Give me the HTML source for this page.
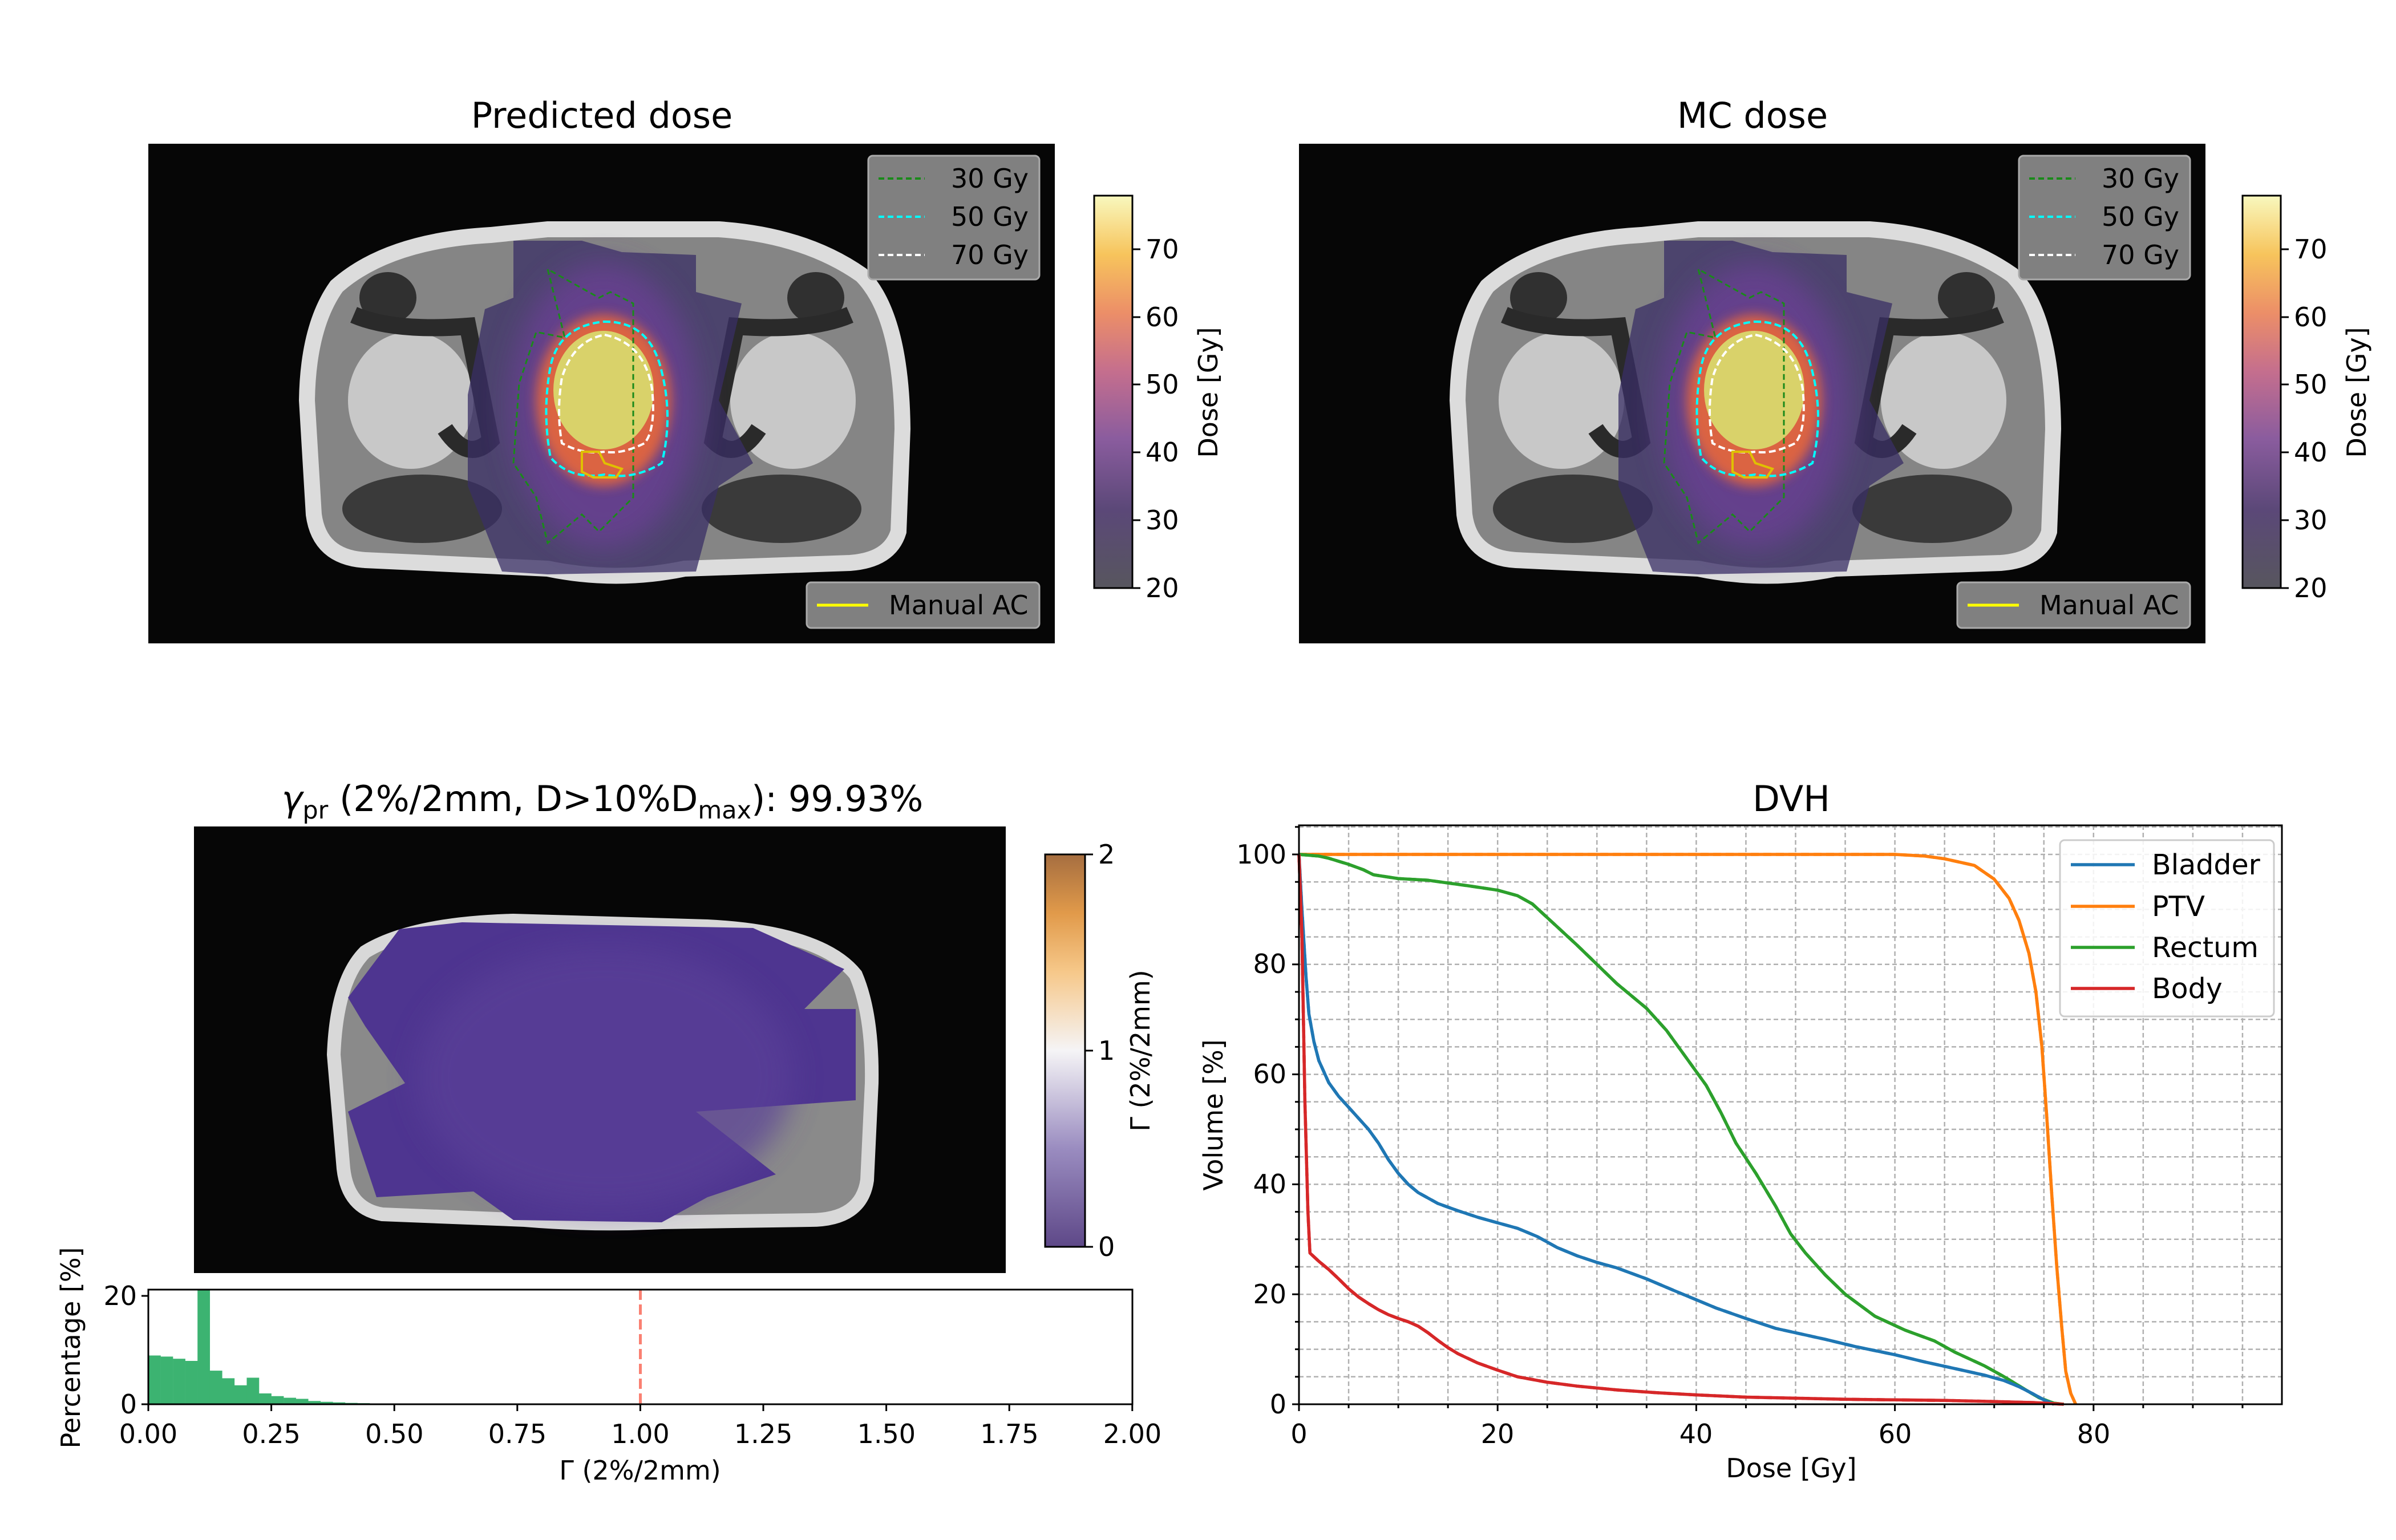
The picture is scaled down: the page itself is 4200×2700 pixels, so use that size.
<!DOCTYPE html>
<html><head><meta charset="utf-8"><style>
html,body{margin:0;padding:0;background:#fff}
svg{display:block}
text{font-family:"DejaVu Sans","Liberation Sans",sans-serif;fill:#000}
</style></head><body>
<svg id="s" width="4200" height="2700" viewBox="0 0 4200 2700" xmlns="http://www.w3.org/2000/svg">
<defs>
<linearGradient id="inf" x1="0" y1="1" x2="0" y2="0">
<stop offset="0" stop-color="#57565e"/><stop offset="0.2" stop-color="#5b4878"/><stop offset="0.38" stop-color="#8a5c9e"/><stop offset="0.55" stop-color="#c46e8e"/><stop offset="0.7" stop-color="#ec8e68"/><stop offset="0.85" stop-color="#f7c45c"/><stop offset="1" stop-color="#f8f8be"/>
</linearGradient>
<linearGradient id="puor" x1="0" y1="1" x2="0" y2="0">
<stop offset="0" stop-color="#5e4888"/><stop offset="0.25" stop-color="#9a8cc0"/><stop offset="0.5" stop-color="#f5f4f6"/><stop offset="0.7" stop-color="#f6c88a"/><stop offset="0.85" stop-color="#e19a4a"/><stop offset="1" stop-color="#a66e40"/>
</linearGradient>
<filter id="bl" x="-30%" y="-30%" width="160%" height="160%"><feGaussianBlur stdDeviation="25"/></filter>
<filter id="bl2" x="-30%" y="-30%" width="160%" height="160%"><feGaussianBlur stdDeviation="10"/></filter>
<g id="mri">
<path d="M330,250 Q420,170 600,160 L700,150 L1000,150 Q1150,160 1250,230 Q1320,300 1322,500 L1315,680 Q1300,730 1230,735 L940,745 Q820,770 700,745 L380,730 Q300,725 290,650 L278,450 Q280,320 330,250 Z" fill="#858585" stroke="#dcdcdc" stroke-width="28"/>
<ellipse cx="460" cy="450" rx="110" ry="120" fill="#c8c8c8"/>
<ellipse cx="1130" cy="450" rx="110" ry="120" fill="#c8c8c8"/>
<ellipse cx="420" cy="270" rx="50" ry="45" fill="#303030"/>
<ellipse cx="1170" cy="270" rx="50" ry="45" fill="#303030"/>
<ellipse cx="480" cy="640" rx="140" ry="60" fill="#3a3a3a"/>
<ellipse cx="1110" cy="640" rx="140" ry="60" fill="#3a3a3a"/>
<path d="M360,300 Q430,330 560,320 L600,520 Q560,560 520,500" fill="none" stroke="#2a2a2a" stroke-width="30"/>
<path d="M1230,300 Q1160,330 1030,320 L990,520 Q1030,560 1070,500" fill="none" stroke="#2a2a2a" stroke-width="30"/>
</g>
<g id="dose">
<path d="M640,170 L760,170 L830,190 L960,195 L960,260 L1040,280 L1000,450 L1060,560 L1000,600 L960,750 L700,755 L620,750 L560,600 L560,440 L590,290 L640,270 Z" fill="#3a2f66" opacity="0.75"/>
<ellipse cx="798" cy="460" rx="165" ry="250" fill="#6a3f94" opacity="0.8" filter="url(#bl)"/>
<ellipse cx="798" cy="450" rx="118" ry="150" fill="#e8683a" opacity="0.9" filter="url(#bl2)"/>
<ellipse cx="798" cy="432" rx="88" ry="104" fill="#d9d26a"/>
<path d="M700,220 L730,340 L680,330 L650,420 L640,560 L680,620 L700,700 L760,650 L790,680 L850,620 L850,280 L810,260 L790,270 Z" fill="none" stroke="#1a8a1a" stroke-width="3" stroke-dasharray="10,6"/>
<path d="M798,312 Q880,310 900,400 Q920,480 900,560 Q850,590 800,580 Q740,590 705,550 Q690,470 705,390 Q720,320 798,312 Z" fill="none" stroke="#00ffff" stroke-width="4" stroke-dasharray="12,6"/>
<path d="M800,335 Q870,350 883,430 Q890,500 870,525 Q830,545 800,540 Q760,545 725,525 Q715,470 725,410 Q745,345 800,335 Z" fill="none" stroke="#ffffff" stroke-width="4" stroke-dasharray="12,6"/>
<path d="M760,540 L790,540 L800,560 L830,570 L820,585 L780,585 L760,575 Z" fill="none" stroke="#e0c000" stroke-width="4"/>
</g>
</defs>

<!-- Top-left -->
<text x="1055" y="224" font-size="62" text-anchor="middle">Predicted dose</text>
<g transform="translate(260,252)">
<rect width="1589" height="876" fill="#060606"/>
<use href="#mri"/><use href="#dose"/>
<rect x="1262" y="21" width="300" height="217" rx="8" fill="#808080" stroke="#aaa" stroke-width="3"/>
<line x1="1280" y1="61" x2="1361" y2="61" stroke="#1a8a1a" stroke-width="4" stroke-dasharray="10,6"/>
<line x1="1280" y1="128" x2="1361" y2="128" stroke="#00ffff" stroke-width="4" stroke-dasharray="10,6"/>
<line x1="1280" y1="195" x2="1361" y2="195" stroke="#fff" stroke-width="4" stroke-dasharray="10,6"/>
<text x="1407" y="77" font-size="46">30 Gy</text>
<text x="1407" y="144" font-size="46">50 Gy</text>
<text x="1407" y="211" font-size="46">70 Gy</text>
<rect x="1154" y="769" width="408" height="80" rx="8" fill="#808080" stroke="#aaa" stroke-width="3"/>
<line x1="1172" y1="809" x2="1262" y2="809" stroke="#ffff00" stroke-width="5"/>
<text x="1298" y="825" font-size="46">Manual AC</text>
</g>
<g id="cb1">
<rect x="1918" y="343" width="67" height="688" fill="url(#inf)" stroke="#000" stroke-width="3"/>
<g stroke="#000" stroke-width="3"><line x1="1985" y1="1031" x2="1999" y2="1031"/><line x1="1985" y1="912" x2="1999" y2="912"/><line x1="1985" y1="793" x2="1999" y2="793"/><line x1="1985" y1="674" x2="1999" y2="674"/><line x1="1985" y1="556" x2="1999" y2="556"/><line x1="1985" y1="437" x2="1999" y2="437"/></g>
<g font-size="46"><text x="2008" y="1047">20</text><text x="2008" y="928">30</text><text x="2008" y="809">40</text><text x="2008" y="690">50</text><text x="2008" y="572">60</text><text x="2008" y="453">70</text></g>
<text transform="translate(2134,688) rotate(-90)" font-size="46" text-anchor="middle">Dose [Gy]</text>
</g>

<!-- Top-right -->
<text x="3072" y="224" font-size="62" text-anchor="middle">MC dose</text>
<g transform="translate(2277,252)">
<rect width="1589" height="876" fill="#060606"/>
<use href="#mri"/><use href="#dose"/>
<rect x="1262" y="21" width="300" height="217" rx="8" fill="#808080" stroke="#aaa" stroke-width="3"/>
<line x1="1280" y1="61" x2="1361" y2="61" stroke="#1a8a1a" stroke-width="4" stroke-dasharray="10,6"/>
<line x1="1280" y1="128" x2="1361" y2="128" stroke="#00ffff" stroke-width="4" stroke-dasharray="10,6"/>
<line x1="1280" y1="195" x2="1361" y2="195" stroke="#fff" stroke-width="4" stroke-dasharray="10,6"/>
<text x="1407" y="77" font-size="46">30 Gy</text>
<text x="1407" y="144" font-size="46">50 Gy</text>
<text x="1407" y="211" font-size="46">70 Gy</text>
<rect x="1154" y="769" width="408" height="80" rx="8" fill="#808080" stroke="#aaa" stroke-width="3"/>
<line x1="1172" y1="809" x2="1262" y2="809" stroke="#ffff00" stroke-width="5"/>
<text x="1298" y="825" font-size="46">Manual AC</text>
</g>
<g transform="translate(2013,0)">
<rect x="1918" y="343" width="67" height="688" fill="url(#inf)" stroke="#000" stroke-width="3"/>
<g stroke="#000" stroke-width="3"><line x1="1985" y1="1031" x2="1999" y2="1031"/><line x1="1985" y1="912" x2="1999" y2="912"/><line x1="1985" y1="793" x2="1999" y2="793"/><line x1="1985" y1="674" x2="1999" y2="674"/><line x1="1985" y1="556" x2="1999" y2="556"/><line x1="1985" y1="437" x2="1999" y2="437"/></g>
<g font-size="46"><text x="2008" y="1047">20</text><text x="2008" y="928">30</text><text x="2008" y="809">40</text><text x="2008" y="690">50</text><text x="2008" y="572">60</text><text x="2008" y="453">70</text></g>
<text transform="translate(2134,688) rotate(-90)" font-size="46" text-anchor="middle">Dose [Gy]</text>
</g>

<!-- Gamma -->
<text x="1056" y="1422" font-size="62" text-anchor="middle"><tspan font-style="italic">γ</tspan><tspan font-size="43" dy="13">pr</tspan><tspan dy="-13"> (2%/2mm, D&gt;10%D</tspan><tspan font-size="43" dy="13">max</tspan><tspan dy="-13">): 99.93%</tspan></text>
<g transform="translate(340,1449)">
<rect width="1423" height="783" fill="#060606"/>
<path d="M300,220 Q380,170 560,165 L900,175 Q1100,185 1160,260 Q1190,330 1188,450 L1180,620 Q1170,690 1080,690 L820,694 Q700,700 580,690 L330,680 Q270,670 262,600 L245,400 Q250,270 300,220 Z" fill="#8a8a8a" stroke="#d8d8d8" stroke-width="24"/>
<path d="M360,180 L470,168 L980,178 L1140,250 L1070,320 L1160,320 L1160,480 L880,500 L1020,610 L900,650 L820,694 L560,690 L490,640 L320,650 L270,500 L370,450 L300,350 L270,300 Z" fill="#4e3590"/>
<ellipse cx="720" cy="440" rx="330" ry="230" fill="#5a4098" opacity="0.7" filter="url(#bl)"/>
</g>
<rect x="1832" y="1498" width="70" height="688" fill="url(#puor)" stroke="#000" stroke-width="3"/>
<g stroke="#000" stroke-width="3"><line x1="1902" y1="2186" x2="1916" y2="2186"/><line x1="1902" y1="1842" x2="1916" y2="1842"/><line x1="1902" y1="1498" x2="1916" y2="1498"/></g>
<g font-size="46"><text x="1925" y="2202">0</text><text x="1925" y="1858">1</text><text x="1925" y="1514">2</text></g>
<text transform="translate(2015,1842) rotate(-90)" font-size="46" text-anchor="middle">Γ (2%/2mm)</text>

<!-- Histogram -->
<g id="hist" fill="#3cb371"></g>
<line x1="1122.5" y1="2261" x2="1122.5" y2="2462" stroke="#fa8072" stroke-width="5" stroke-dasharray="18,8"/>
<rect x="260" y="2261" width="1725" height="201" fill="none" stroke="#000" stroke-width="3"/>
<g stroke="#000" stroke-width="3" id="hticks"></g>
<g font-size="46" text-anchor="middle"><text x="260" y="2530">0.00</text><text x="475.6" y="2530">0.25</text><text x="691.3" y="2530">0.50</text><text x="906.9" y="2530">0.75</text><text x="1122.5" y="2530">1.00</text><text x="1338.1" y="2530">1.25</text><text x="1553.8" y="2530">1.50</text><text x="1769.4" y="2530">1.75</text><text x="1985" y="2530">2.00</text></g>
<g font-size="46" text-anchor="end"><text x="240" y="2478">0</text><text x="240" y="2288">20</text></g>
<line x1="248" y1="2462" x2="260" y2="2462" stroke="#000" stroke-width="3"/><line x1="248" y1="2272" x2="260" y2="2272" stroke="#000" stroke-width="3"/>
<text x="1122" y="2594" font-size="46" text-anchor="middle">Γ (2%/2mm)</text>
<text transform="translate(140,2363) rotate(-90)" font-size="46" text-anchor="middle">Percentage [%]</text>

<!-- DVH -->
<text x="3140" y="1422" font-size="62" text-anchor="middle">DVH</text>
<g id="grid" stroke="#b0b0b0" stroke-width="2.5" stroke-dasharray="8,5"></g>
<g id="curves" fill="none" stroke-width="5.5" stroke-linejoin="round"></g>
<rect x="2277" y="1447" width="1723" height="1015" fill="none" stroke="#000" stroke-width="3"/>
<g id="dticks" stroke="#000" stroke-width="3"></g>
<g font-size="46" text-anchor="middle"><text x="2277" y="2530">0</text><text x="2625" y="2530">20</text><text x="2973" y="2530">40</text><text x="3322" y="2530">60</text><text x="3670" y="2530">80</text></g>
<g font-size="46" text-anchor="end"><text x="2255" y="2478">0</text><text x="2255" y="2285">20</text><text x="2255" y="2092">40</text><text x="2255" y="1899">60</text><text x="2255" y="1706">80</text><text x="2255" y="1514">100</text></g>
<text x="3140" y="2590" font-size="46" text-anchor="middle">Dose [Gy]</text>
<text transform="translate(2143,1955) rotate(-90)" font-size="46" text-anchor="middle">Volume [%]</text>
<rect x="3611" y="1473" width="375" height="309" rx="8" fill="#fff" fill-opacity="0.85" stroke="#ccc" stroke-width="3"/>
<line x1="3630" y1="1516" x2="3742" y2="1516" stroke="#1f77b4" stroke-width="5.5"/>
<line x1="3630" y1="1589" x2="3742" y2="1589" stroke="#ff7f0e" stroke-width="5.5"/>
<line x1="3630" y1="1661" x2="3742" y2="1661" stroke="#2ca02c" stroke-width="5.5"/>
<line x1="3630" y1="1733" x2="3742" y2="1733" stroke="#d62728" stroke-width="5.5"/>
<g font-size="49"><text x="3772" y="1533">Bladder</text><text x="3772" y="1606">PTV</text><text x="3772" y="1678">Rectum</text><text x="3772" y="1750">Body</text></g>
</svg>
<script>
var NS="http://www.w3.org/2000/svg";
function el(p,t,a){var e=document.createElementNS(NS,t);for(var k in a)e.setAttribute(k,a[k]);document.getElementById(p).appendChild(e);return e;}
var hv=[9,8.8,8.4,8,21,6.2,4.8,3.5,4.9,2,1.5,1.2,1.0,0.6,0.45,0.35,0.25,0.2,0.12,0.1,0.06];
for(var i=0;i<hv.length;i++){el("hist","rect",{x:260+i*21.56,y:2462-hv[i]*9.5,width:21.8,height:hv[i]*9.5});}
for(var t=0;t<=8;t++){var x=260+t*215.6;el("hticks","line",{x1:x,y1:2462,x2:x,y2:2474});}
function X(d){return 2277+17.41*d}function Y(v){return 2462-9.64*v}
for(var d=5;d<99;d+=5)el("grid","line",{x1:X(d),y1:1447,x2:X(d),y2:2462});
for(var v=5;v<=105;v+=5)el("grid","line",{x1:2277,y1:Y(v),x2:4000,y2:Y(v)});
for(var d=0;d<99;d+=5){el("dticks","line",{x1:X(d),y1:2462,x2:X(d),y2:d%20==0?2474:2469});}
for(var v=0;v<=105;v+=5){el("dticks","line",{x1:2277,y1:Y(v),x2:v%20==0?2265:2270,y2:Y(v)});}
var C={
"#ff7f0e":[[0,100],[60,100],[63,99.7],[65,99.2],[68,98],[70,95.5],[71.5,92],[72.5,88],[73.5,82],[74.2,75],[74.8,65],[75.3,52],[75.8,38],[76.3,25],[76.8,14],[77.2,6],[77.7,2],[78.2,0]],
"#2ca02c":[[0,100],[2,99.7],[3,99.3],[5,98.2],[6.5,97.2],[7.5,96.3],[10,95.6],[13,95.3],[17,94.3],[20,93.5],[22,92.5],[23.5,91],[25,88.5],[28,83.5],[30,80],[32,76.5],[35,72],[37,68],[39,63],[41,58],[42.5,53],[44,47.5],[46,42],[48,36],[49.5,31],[51,27.5],[53,23.5],[55,20],[58,16],[61,13.5],[64,11.5],[66,9.5],[69,7],[71,5],[73,2.8],[74.5,1.2],[76,0.2],[77,0]],
"#1f77b4":[[0,100],[0.3,90],[0.7,78],[1,71],[1.5,66],[2,62.5],[3,58.5],[4,56],[5,54],[6,52],[7,50],[8,47.5],[9,44.5],[10,42],[11,40],[12,38.5],[14,36.5],[16,35.2],[18,34],[20,33],[22,32],[24,30.5],[26,28.5],[28,27],[30,25.8],[32,24.8],[35,22.8],[38,20.5],[40,19],[42,17.5],[45,15.6],[48,13.8],[50,13],[53,11.8],[56,10.5],[60,9],[63,7.7],[66,6.5],[69,5.3],[71,4.3],[72.5,3.2],[74,1.8],[75,0.8],[76,0]],
"#d62728":[[0,100],[0.3,85],[0.6,55],[0.9,35],[1.1,27.5],[2,26],[3,24.5],[4,22.8],[5,21],[6,19.5],[7,18.3],[8,17.2],[9,16.3],[10,15.6],[11,15],[12,14.2],[13,13],[14,11.6],[15,10.3],[16,9.2],[18,7.5],[20,6.2],[22,5],[25,4],[28,3.3],[32,2.6],[36,2.1],[40,1.7],[45,1.3],[50,1.1],[55,0.9],[60,0.8],[65,0.7],[70,0.5],[74,0.3],[76,0.1],[77,0]]};
for(var c in C){var p=C[c].map(function(q){return X(q[0]).toFixed(1)+","+Y(q[1]).toFixed(1)}).join(" ");
el("curves","polyline",{points:p,stroke:c,"stroke-dasharray":"14,8"});
el("curves","polyline",{points:p,stroke:c});}
</script>
</body></html>
